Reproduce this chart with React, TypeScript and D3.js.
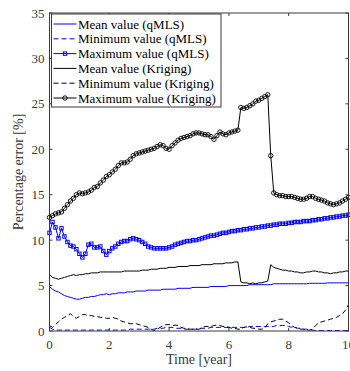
import React from "react";
import * as d3 from "d3";

// time grid (year), 0.1 step
const time = d3.range(101).map((i) => i / 10);

const xTicks = [0, 2, 4, 6, 8, 10];
const yTicks = [0, 5, 10, 15, 20, 25, 30, 35];

const meanQmls = [
  4.9, 4.6, 4.4, 4.3, 4.1, 3.9, 3.8, 3.7, 3.6, 3.5,
  3.5, 3.6, 3.7, 3.7, 3.8, 3.8, 3.9, 4.0, 4.0, 4.1,
  4.0, 4.1, 4.1, 4.2, 4.2, 4.2, 4.3, 4.3, 4.3, 4.4,
  4.4, 4.4, 4.4, 4.5, 4.5, 4.5, 4.5, 4.5, 4.6, 4.6,
  4.6, 4.6, 4.6, 4.7, 4.7, 4.7, 4.7, 4.7, 4.8, 4.8,
  4.8, 4.8, 4.8, 4.8, 4.9, 4.9, 4.9, 4.9, 4.9, 4.9,
  5.0, 5.0, 5.0, 5.0, 5.0, 5.0, 5.0, 5.1, 5.1, 5.1,
  5.1, 5.1, 5.1, 5.1, 5.1, 5.2, 5.2, 5.2, 5.2, 5.2,
  5.2, 5.2, 5.2, 5.2, 5.2, 5.2, 5.2, 5.25, 5.25, 5.25,
  5.25, 5.25, 5.25, 5.3, 5.3, 5.3, 5.3, 5.3, 5.3, 5.3,
  5.3,
];

const minQmls = [
  0.4, 0.2, 0.1, 0.1, 0.1, 0.1, 0.1, 0.1, 0.1, 0.1,
  0.1, 0.1, 0.1, 0.1, 0.1, 0.1, 0.1, 0.1, 0.1, 0.1,
  0.1, 0.1, 0.1, 0.1, 0.1, 0.1, 0.1, 0.2, 0.2, 0.2,
  0.2, 0.2, 0.2, 0.2, 0.2, 0.2, 0.3, 0.3, 0.3, 0.4,
  0.4, 0.4, 0.3, 0.3, 0.3, 0.2, 0.2, 0.2, 0.2, 0.2,
  0.3, 0.3, 0.3, 0.3, 0.4, 0.4, 0.4, 0.4, 0.4, 0.4,
  0.4, 0.4, 0.4, 0.4, 0.4, 0.4, 0.4, 0.5, 0.5, 0.5,
  0.5, 0.5, 0.5, 0.5, 0.5, 0.5, 0.6, 0.6, 0.6, 0.6,
  0.5, 0.4, 0.4, 0.3, 0.3, 0.2, 0.2, 0.1, 0.1, 0.05,
  0.05, 0.05, 0.05, 0.05, 0.05, 0.05, 0.05, 0.05, 0.05, 0.05,
  0.05,
];

const maxQmls = [
  10.8, 12.0, 11.4, 10.2, 11.3, 10.4, 9.8, 9.4, 9.3, 9.0,
  8.5, 8.1, 8.5, 9.5, 9.6, 9.2, 9.2, 9.3, 8.8, 8.4,
  8.8, 9.1, 9.3, 9.6, 9.8, 9.9, 9.9, 10.1, 10.2, 10.1,
  10.0, 9.8, 9.6, 9.3, 9.2, 9.1, 9.1, 9.1, 9.1, 9.1,
  9.2, 9.3, 9.5, 9.6, 9.7, 9.8, 9.9, 9.9, 10.0, 10.0,
  10.1, 10.2, 10.3, 10.4, 10.5, 10.5, 10.6, 10.7, 10.8, 10.8,
  10.9, 11.0, 11.0, 11.1, 11.1, 11.2, 11.2, 11.3, 11.3, 11.4,
  11.4, 11.5, 11.5, 11.6, 11.6, 11.7, 11.7, 11.8, 11.8, 11.8,
  11.9, 11.9, 12.0, 12.0, 12.0, 12.1, 12.1, 12.1, 12.2, 12.2,
  12.3, 12.3, 12.4, 12.4, 12.5, 12.5, 12.6, 12.6, 12.7, 12.7,
  12.8,
];

const meanKriging = [
  6.2, 5.9, 5.8, 5.7, 5.8, 5.9, 6.0, 6.1, 6.2, 6.1,
  6.2, 6.2, 6.3, 6.3, 6.4, 6.4, 6.4, 6.5, 6.5, 6.5,
  6.5, 6.5, 6.5, 6.5, 6.5, 6.6, 6.6, 6.6, 6.6, 6.6,
  6.6, 6.7, 6.7, 6.7, 6.8, 6.8, 6.8, 6.9, 6.9, 6.9,
  7.0, 7.0, 7.0, 7.1, 7.1, 7.1, 7.1, 7.2, 7.2, 7.2,
  7.2, 7.3, 7.3, 7.3, 7.3, 7.4, 7.4, 7.4, 7.4, 7.5,
  7.5, 7.5, 7.6, 7.6, 5.4, 5.3, 5.3, 5.2, 5.3, 5.2,
  5.3, 5.3, 5.4, 5.5, 7.3, 7.0, 6.9, 6.8, 6.7, 6.7,
  6.6, 6.6, 6.5, 6.5, 6.4, 6.4, 6.5, 6.5, 6.6, 6.6,
  6.5, 6.5, 6.4, 6.4, 6.3, 6.4, 6.4, 6.5, 6.5, 6.6,
  6.6,
];

const minKriging = [
  0.6, 0.4, 0.7, 1.0, 1.3, 1.5, 1.7, 1.9, 1.6, 1.4,
  1.6, 1.8, 1.8, 1.7, 1.7, 1.6, 1.6, 1.5, 1.5, 1.4,
  1.4, 1.5, 1.4, 1.3, 1.1, 1.0, 0.9, 0.8, 0.8, 0.8,
  0.7, 0.6, 0.5, 0.4, 0.2, 0.05, 0.2, 0.4, 0.6, 0.7,
  0.7, 0.6, 0.65, 0.6, 0.4, 0.3, 0.25, 0.2, 0.2, 0.2,
  0.2, 0.3, 0.5, 0.5, 0.5, 0.6, 0.65, 0.6, 0.5, 0.5,
  0.4, 0.3, 0.3, 0.2, 0.2, 0.4, 0.45, 0.4, 0.3, 0.3,
  0.2, 0.2, 0.3, 0.8, 1.0, 1.1, 1.2, 1.3, 1.3, 1.1,
  0.9, 0.6, 0.4, 0.3, 0.2, 0.2, 0.1, 0.1, 0.2, 0.6,
  0.9, 1.0, 1.1, 1.2, 1.3, 1.4, 1.5, 1.7, 1.9, 2.3,
  2.9,
];

const maxKriging = [
  12.5, 12.7, 12.9, 13.0, 13.1, 13.5, 13.9, 14.3, 14.6, 15.0,
  15.2, 15.1, 15.2, 15.3, 15.5, 15.8, 15.9, 16.3, 16.6, 17.0,
  17.2, 17.5, 17.8, 18.2, 18.5, 18.5, 18.6, 18.9, 19.3, 19.5,
  19.6, 19.7, 19.8, 19.9, 20.0, 20.1, 20.3, 20.5, 20.4, 20.1,
  20.0, 20.4, 20.7, 21.0, 21.2, 21.3, 21.4, 21.5, 21.7, 21.8,
  21.8, 21.7, 21.6, 21.6, 21.4, 21.1, 21.5, 21.9, 21.7, 21.6,
  21.8, 21.9, 22.0, 22.1, 24.6, 24.5, 24.6, 24.8, 25.0, 25.3,
  25.4, 25.6, 25.8, 26.0, 19.3, 15.2, 15.0, 14.9, 14.9, 14.8,
  14.8, 14.8, 14.7, 14.6, 14.5, 14.5, 14.6, 14.8, 14.8, 14.6,
  14.5, 14.4, 14.3, 14.1, 14.0, 13.9, 14.0, 14.1, 14.3, 14.5,
  14.7,
];

const legendLabels = [
  "Mean value (qMLS)",
  "Minimum value (qMLS)",
  "Maximum value (qMLS)",
  "Mean value (Kriging)",
  "Minimum value (Kriging)",
  "Maximum value (Kriging)",
];

const BLUE = "#0000ff";
const BLACK = "#000000";
const TICK_COLOR = "#3a3a3a";
const FONT = "'Liberation Serif', 'Times New Roman', serif";

const width = 350;
const height = 371;
const margin = { top: 13, right: 1.5, bottom: 40, left: 49.5 };

const series = [
  { name: legendLabels[0], values: meanQmls, color: BLUE, dash: null, marker: null },
  { name: legendLabels[1], values: minQmls, color: BLUE, dash: "5,3", marker: null },
  { name: legendLabels[2], values: maxQmls, color: BLUE, dash: null, marker: "square" },
  { name: legendLabels[3], values: meanKriging, color: BLACK, dash: null, marker: null },
  { name: legendLabels[4], values: minKriging, color: BLACK, dash: "5,3", marker: null },
  { name: legendLabels[5], values: maxKriging, color: BLACK, dash: null, marker: "circle" },
];

const Marker = ({ type, x, y, color }: { type: string | null; x: number; y: number; color: string }) => {
  if (type === "square") {
    return <rect x={x - 1.7} y={y - 1.7} width={3.4} height={3.4} fill="none" stroke={color} strokeWidth={1} />;
  }
  if (type === "circle") {
    return <circle cx={x} cy={y} r={2.2} fill="none" stroke={color} strokeWidth={0.9} />;
  }
  return null;
};

export default function App() {
  const x = d3
    .scaleLinear()
    .domain([0, 10])
    .range([margin.left, width - margin.right]);
  const y = d3
    .scaleLinear()
    .domain([0, 35])
    .range([height - margin.bottom, margin.top]);

  const line = d3
    .line<number>()
    .x((_, i) => x(time[i]))
    .y((d) => y(d));

  const x0 = x.range()[0];
  const x1 = x.range()[1];
  const y0 = y.range()[0];
  const y1 = y.range()[1];

  // legend box
  const lg = { x: 51.5, y: 14, w: 169.5, h: 93, row: 14.8 };

  return (
    <svg
      width={width}
      height={height}
      style={{ position: "absolute", left: 0, top: 0, background: "#fff", fontFamily: FONT }}
    >
      <rect x={0} y={0} width={width} height={height} fill="#fff" />

      {/* series */}
      {series.map((s) => (
        <g key={s.name}>
          <path
            d={line(s.values) || ""}
            fill="none"
            stroke={s.color}
            strokeWidth={1}
            strokeDasharray={s.dash || undefined}
          />
          {s.marker &&
            s.values.map((v, i) => (
              <Marker key={i} type={s.marker} x={x(time[i])} y={y(v)} color={s.color} />
            ))}
        </g>
      ))}

      {/* axes box */}
      <rect x={x0} y={y1} width={x1 - x0} height={y0 - y1} fill="none" stroke={TICK_COLOR} strokeWidth={1} />
      {xTicks.map((t) => (
        <g key={"x" + t}>
          <line x1={x(t)} x2={x(t)} y1={y0} y2={y0 - 3} stroke={TICK_COLOR} />
          <line x1={x(t)} x2={x(t)} y1={y1} y2={y1 + 3} stroke={TICK_COLOR} />
          <text x={x(t)} y={y0 + 18} textAnchor="middle" fontSize={13} fill={TICK_COLOR}>
            {t}
          </text>
        </g>
      ))}
      {yTicks.map((t) => (
        <g key={"y" + t}>
          <line x1={x0} x2={x0 + 3} y1={y(t)} y2={y(t)} stroke={TICK_COLOR} />
          <line x1={x1} x2={x1 - 3} y1={y(t)} y2={y(t)} stroke={TICK_COLOR} />
          <text x={x0 - 5} y={y(t) + 4.5} textAnchor="end" fontSize={13} fill={TICK_COLOR}>
            {t}
          </text>
        </g>
      ))}

      <text x={(x0 + x1) / 2} y={y0 + 33} textAnchor="middle" fontSize={14} fill={TICK_COLOR}>
        Time [year]
      </text>
      <text
        transform={`translate(${23},${(y0 + y1) / 2}) rotate(-90)`}
        textAnchor="middle"
        fontSize={14}
        fill={TICK_COLOR}
      >
        Percentage error [%]
      </text>

      {/* legend */}
      <rect x={lg.x} y={lg.y} width={lg.w} height={lg.h} fill="#fff" stroke={TICK_COLOR} strokeWidth={1} />
      {series.map((s, i) => {
        const cy = lg.y + 10 + i * lg.row;
        return (
          <g key={"lg" + i}>
            <line
              x1={lg.x + 2}
              x2={lg.x + 25}
              y1={cy}
              y2={cy}
              stroke={s.color}
              strokeWidth={1}
              strokeDasharray={s.dash || undefined}
            />
            <Marker type={s.marker} x={lg.x + 13.5} y={cy} color={s.color} />
            <text x={lg.x + 26.5} y={cy + 4.5} fontSize={13} fill={BLACK}>
              {s.name}
            </text>
          </g>
        );
      })}
    </svg>
  );
}
